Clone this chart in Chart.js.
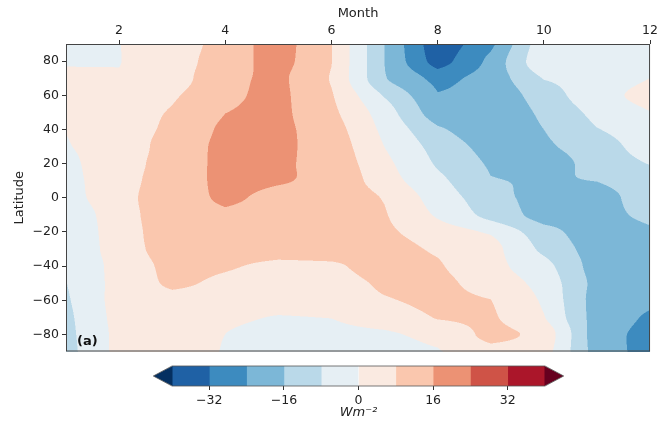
<!DOCTYPE html>
<html>
<head>
<meta charset="utf-8">
<script src="https://cdn.jsdelivr.net/npm/chart.js@4.4.0/dist/chart.umd.min.js"></script>
<style>
  html, body { margin: 0; padding: 0; background: #fff; }
  #wrap { position: relative; width: 660px; height: 422px; }
  #fieldChart { position: absolute; left: 0; top: 0; }
  #colorbarChart { position: absolute; left: 0; top: 360px; }
</style>
</head>
<body>
<div id="wrap">
  <canvas id="fieldChart" width="660" height="362"></canvas>
  <canvas id="colorbarChart" width="660" height="62"></canvas>
</div>
<script>
// grid of the field (months across, latitudes down), values in W m-2
const months = [1, 2, 3, 4, 5, 6, 7, 8, 9, 10, 11, 12];
const latitudes = [90, 80, 70, 60, 50, 40, 30, 20, 10, 0, -10, -20, -30, -40, -50, -60, -70, -80, -90];
const fluxAnomaly = [
  [-1, -0.1, 3, 11.5, 20, 8.3, -16, -38, -26, -2, -3, -3],          // 90
  [-0.3, -0.2, 4.2, 12, 19.5, 8.2, -16, -36, -22, -1, -2, -1.5],     // 80
  [0.6, 0.7, 4.1, 13.9, 18.1, 7.5, -15.5, -26.8, -21, -7.5, -4, 0.05], // 70
  [1, 1.5, 6.8, 14.5, 18.2, 8.7, -8.8, -23.5, -22, -12, -2.7, 2.5],  // 60
  [0.8, 3, 8.8, 15.9, 18.1, 10, -4, -21, -22, -14.5, -5.6, -0.2],    // 50
  [0.1, 2, 10.5, 17.5, 18, 12, -2, -14.8, -21.8, -16, -8.3, -4],     // 40
  [-0.3, 2.2, 12.2, 17.8, 17.5, 13.3, -0.1, -11.1, -19.3, -17.7, -11, -5], // 30
  [-1.5, 3.8, 12.1, 18, 17, 14, 2, -9, -17.1, -21.5, -12, -7.7],     // 20
  [-2.2, 4.2, 13.1, 17.5, 16.4, 15, 3.5, -6, -15.5, -17.2, -15.8, -11], // 10
  [-3.2, 5, 13.4, 17, 14.6, 14.5, 7.4, -3.6, -12.8, -19.6, -19.3, -12], // 0
  [-5.5, 4.3, 13.5, 15, 14, 13.5, 8.6, -1, -10.6, -19.3, -19, -14],  // -10
  [-6.1, 3.9, 13, 13.5, 13, 12.5, 9.5, 4, -1, -13, -21, -17.5],      // -20
  [-7.1, 4, 12, 12.5, 12, 12, 10.8, 7, 3, -10, -20, -22],            // -30
  [-7.5, 3, 10.5, 9, 6, 6.8, 11, 8.8, 2.6, -5, -20, -22],            // -40
  [-8.2, 3, 9.5, 6.5, 5, 5.5, 9, 10, 5, -2.5, -19, -23],             // -50
  [-9.1, 3.4, 5, 5, 5, 6, 7.5, 9.5, 8.1, -1, -20, -23],              // -60
  [-10, 3, 3, 1.5, -0.5, 0.2, 4.5, 8.4, 9.3, 0.5, -20, -25],         // -70
  [-10.5, 2.5, 1.5, 0, -2, -2, -1, 1.9, 10.5, 6, -21, -26.3],        // -80
  [-11, 2.5, 1.5, -0.2, -2.5, -2.5, -2, -0.5, 4.5, 4, -20, -27]      // -90
];

// contour levels and colours (RdBu_r)
const levels = [-40, -32, -24, -16, -8, 0, 8, 16, 24, 32, 40];
const bandColors = ['#1f61a5', '#3d8bbf', '#7cb7d7', '#bad9e9', '#e6eff4',
                    '#faeae1', '#fac7ae', '#ec9274', '#cf5347', '#ab162a'];
const underColor = '#053061';
const overColor = '#67001f';
const extendFrac = 0.05;

const monthTicks = [2, 4, 6, 8, 10, 12];
const latTicks = [-80, -60, -40, -20, 0, 20, 40, 60, 80];
const colorbarTicks = [-32, -16, 0, 16, 32];

const FONT = "'DejaVu Sans', sans-serif";
const TEXT = '#222';

function hexToRgb(h) {
  return [parseInt(h.slice(1, 3), 16), parseInt(h.slice(3, 5), 16), parseInt(h.slice(5, 7), 16)];
}
const bandRgb = bandColors.map(hexToRgb);
const underRgb = hexToRgb(underColor);
const overRgb = hexToRgb(overColor);

function colorFor(v) {
  if (v < levels[0]) return underRgb;
  if (v >= levels[levels.length - 1]) return overRgb;
  for (let k = 0; k < bandRgb.length; k++) {
    if (v < levels[k + 1]) return bandRgb[k];
  }
  return overRgb;
}

// position of v inside a monotone array -> [index, fraction]
function locate(arr, v) {
  const asc = arr[arr.length - 1] > arr[0];
  for (let i = 0; i < arr.length - 1; i++) {
    const a = arr[i], b = arr[i + 1];
    const inside = asc ? (v >= a && v <= b) : (v <= a && v >= b);
    if (inside) return [i, (v - a) / (b - a)];
  }
  if (asc ? v < arr[0] : v > arr[0]) return [0, 0];
  return [arr.length - 2, 1];
}

// monotone (Fritsch-Carlson) slopes down every month column
const colSlopes = months.map((_, i) => {
  const f = fluxAnomaly.map(r => r[i]);
  const n = f.length;
  const d = [];
  for (let k = 0; k < n; k++) {
    if (k === 0) { d.push(f[1] - f[0]); continue; }
    if (k === n - 1) { d.push(f[n - 1] - f[n - 2]); continue; }
    const a = f[k] - f[k - 1], b = f[k + 1] - f[k];
    d.push(a * b <= 0 ? 0 : 2 / (1 / a + 1 / b));
  }
  return d;
});

function columnAt(i, j, t) {
  const f0 = fluxAnomaly[j][i], f1 = fluxAnomaly[j + 1][i];
  const d0 = colSlopes[i][j], d1 = colSlopes[i][j + 1];
  const t2 = t * t, t3 = t2 * t;
  return (2 * t3 - 3 * t2 + 1) * f0 + (t3 - 2 * t2 + t) * d0 + (-2 * t3 + 3 * t2) * f1 + (t3 - t2) * d1;
}

function fieldAt(month, lat) {
  const [i, tx] = locate(months, month);
  const [j, ty] = locate(latitudes, lat);
  const a = columnAt(i, j, ty);
  const b = columnAt(i + 1, j, ty);
  return a + (b - a) * tx;
}

// filled contours painted through the chart scales
const contourPlugin = {
  id: 'contourFill',
  beforeDatasetsDraw(chart) {
    const { ctx, chartArea: a, scales: { x, y } } = chart;
    const w = Math.round(a.right - a.left);
    const h = Math.round(a.bottom - a.top);
    const off = document.createElement('canvas');
    off.width = w; off.height = h;
    const octx = off.getContext('2d');
    const img = octx.createImageData(w, h);
    const sub = [0.25, 0.75];
    for (let py = 0; py < h; py++) {
      for (let px = 0; px < w; px++) {
        let r = 0, g = 0, b = 0;
        for (const sy of sub) {
          const lat = y.getValueForPixel(a.top + py + sy);
          for (const sx of sub) {
            const m = x.getValueForPixel(a.left + px + sx);
            const c = colorFor(fieldAt(m, lat));
            r += c[0]; g += c[1]; b += c[2];
          }
        }
        const o = (py * w + px) * 4;
        img.data[o] = r / 4; img.data[o + 1] = g / 4; img.data[o + 2] = b / 4; img.data[o + 3] = 255;
      }
    }
    octx.putImageData(img, 0, 0);
    ctx.drawImage(off, a.left, a.top);
  },
  afterDraw(chart) {
    const { ctx, chartArea: a } = chart;
    ctx.save();
    ctx.strokeStyle = '#444';
    ctx.lineWidth = 1;
    ctx.strokeRect(a.left + 0.5, a.top + 0.5, a.right - a.left - 1, a.bottom - a.top - 1);
    ctx.fillStyle = '#111';
    ctx.font = "bold 13px " + FONT;
    ctx.textBaseline = 'middle';
    ctx.fillText('(a)', a.left + 11, a.bottom - 10);
    ctx.restore();
  }
};

const minus = v => String(v).replace('-', '\u2212');

new Chart(document.getElementById('fieldChart'), {
  type: 'scatter',
  data: { datasets: [{ data: [], pointRadius: 0 }] },
  options: {
    responsive: false,
    animation: false,
    events: [],
    layout: { padding: { top: 0, left: 0, right: 8, bottom: 5 } },
    plugins: { legend: { display: false }, tooltip: { enabled: false } },
    scales: {
      x: {
        type: 'linear', position: 'top', min: months[0], max: months[months.length - 1],
        afterBuildTicks: s => { s.ticks = monthTicks.map(v => ({ value: v })); },
        afterFit: s => { s.height = 44; },
        grid: { drawOnChartArea: false, drawTicks: true, tickLength: 4, tickColor: '#333' },
        border: { display: false },
        ticks: { color: TEXT, padding: 2, maxRotation: 0, autoSkip: false, font: { family: FONT, size: 12.5 } },
        title: { display: true, text: 'Month', color: TEXT, font: { family: FONT, size: 13 }, padding: { top: 6, bottom: 0 } }
      },
      y: {
        type: 'linear', position: 'left', min: latitudes[latitudes.length - 1], max: latitudes[0],
        afterBuildTicks: s => { s.ticks = latTicks.map(v => ({ value: v })); },
        afterFit: s => { s.width = 66; },
        grid: { drawOnChartArea: false, drawTicks: true, tickLength: 4, tickColor: '#333' },
        border: { display: false },
        ticks: { color: TEXT, padding: 3, autoSkip: false, font: { family: FONT, size: 12.5 }, callback: v => minus(v) },
        title: { display: true, text: 'Latitude', color: TEXT, font: { family: FONT, size: 13 }, padding: { top: 12, bottom: 0 } }
      }
    }
  },
  plugins: [contourPlugin]
});

// colour bar with triangular extensions
const extendPlugin = {
  id: 'colorbarExtend',
  afterDatasetsDraw(chart) {
    const { ctx, chartArea: a, scales: { x } } = chart;
    const lo = x.getPixelForValue(levels[0]);
    const hi = x.getPixelForValue(levels[levels.length - 1]);
    const ext = (hi - lo) * extendFrac;
    const mid = (a.top + a.bottom) / 2;
    ctx.save();
    ctx.fillStyle = underColor;
    ctx.beginPath();
    ctx.moveTo(lo + 0.5, a.top); ctx.lineTo(lo - ext, mid); ctx.lineTo(lo + 0.5, a.bottom);
    ctx.closePath(); ctx.fill();
    ctx.fillStyle = overColor;
    ctx.beginPath();
    ctx.moveTo(hi - 0.5, a.top); ctx.lineTo(hi + ext, mid); ctx.lineTo(hi - 0.5, a.bottom);
    ctx.closePath(); ctx.fill();
    ctx.strokeStyle = '#555';
    ctx.lineWidth = 0.8;
    ctx.beginPath();
    ctx.moveTo(lo, a.top); ctx.lineTo(hi, a.top); ctx.lineTo(hi + ext, mid);
    ctx.lineTo(hi, a.bottom); ctx.lineTo(lo, a.bottom); ctx.lineTo(lo - ext, mid);
    ctx.closePath(); ctx.stroke();
    ctx.restore();
  }
};

new Chart(document.getElementById('colorbarChart'), {
  type: 'bar',
  data: {
    labels: [''],
    datasets: bandColors.map((c, k) => ({
      data: [[levels[k], levels[k + 1]]],
      backgroundColor: c,
      borderWidth: 0,
      barPercentage: 1,
      categoryPercentage: 1,
      grouped: false
    }))
  },
  options: {
    indexAxis: 'y',
    responsive: false,
    animation: false,
    events: [],
    layout: { padding: { left: 172, right: 115, top: 6, bottom: 0 } },
    plugins: { legend: { display: false }, tooltip: { enabled: false } },
    scales: {
      x: {
        type: 'linear', position: 'bottom', min: levels[0], max: levels[levels.length - 1],
        afterBuildTicks: s => { s.ticks = colorbarTicks.map(v => ({ value: v })); },
        afterFit: s => { s.height = 36; },
        grid: { drawOnChartArea: false, drawTicks: true, tickLength: 4, tickColor: '#333' },
        border: { display: false },
        ticks: { color: TEXT, padding: 3, maxRotation: 0, autoSkip: false, font: { family: FONT, size: 12.5 }, callback: v => minus(v) },
        title: { display: true, text: 'Wm\u207B\u00B2', color: TEXT, font: { family: FONT, size: 13, style: 'italic' }, padding: { top: 0, bottom: 2 } }
      },
      y: { display: false }
    }
  },
  plugins: [extendPlugin]
});
</script>
</body>
</html>
